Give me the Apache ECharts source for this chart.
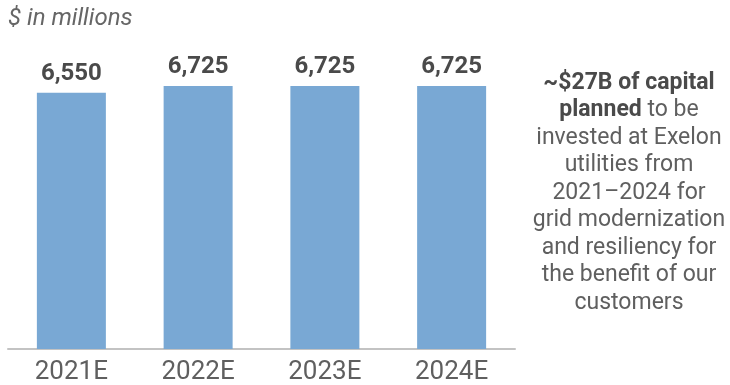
<!DOCTYPE html>
<html>
<head>
<meta charset="utf-8">
<script src="https://cdn.jsdelivr.net/npm/echarts@6/dist/echarts.min.js"></script>
<style>
  html, body { margin: 0; padding: 0; background: #ffffff; }
  #chart { width: 730px; height: 385px; }
</style>
</head>
<body>
<div id="chart"></div>
<script>
// Planned utility capital expenditure by year ($ in millions)
const years = ['2021E', '2022E', '2023E', '2024E'];
const capex = [6550, 6725, 6725, 6725];

const unitNote = '$ in millions';
const noteBold1 = '~$27B of capital';
const noteBold2 = 'planned';
const noteRest = [' to be', 'invested at Exelon', 'utilities from', '2021\u20132024 for',
  'grid modernization', 'and resiliency for', 'the benefit of our', 'customers'];

const chart = echarts.init(document.getElementById('chart'));

const noteText =
  '{b|' + noteBold1 + '}\n' +
  '{b|' + noteBold2 + '}{n|' + noteRest[0] + '}\n' +
  noteRest.slice(1).map(s => '{n|' + s + '}').join('\n');

chart.setOption({
  animation: false,
  grid: { left: 8, right: 215, top: 36, bottom: 35 },
  xAxis: {
    type: 'category',
    data: years,
    axisLine: { show: true, lineStyle: { color: '#c3c3c3', width: 2 } },
    axisTick: { show: false },
    axisLabel: {
      margin: 10,
      fontFamily: 'Roboto',
      fontSize: 26,
      color: '#5f5f5f'
    }
  },
  yAxis: {
    type: 'value',
    min: 0,
    max: 8000,
    show: false,
    splitLine: { show: false }
  },
  series: [{
    type: 'bar',
    data: capex,
    barWidth: 69,
    itemStyle: { color: '#79a8d4' },
    label: {
      show: true,
      position: 'top',
      distance: 7,
      fontFamily: 'Roboto',
      fontWeight: 'bold',
      fontSize: 24,
      color: '#4a4a4a',
      formatter: p => p.value.toLocaleString('en-US')
    }
  }],
  graphic: [
    {
      type: 'text',
      left: 8,
      top: 7,
      style: {
        text: unitNote,
        fontFamily: 'Roboto',
        fontStyle: 'italic',
        fontSize: 24,
        fill: '#666666'
      }
    },
    {
      type: 'text',
      x: 629,
      y: 69,
      style: {
        text: noteText,
        textAlign: 'center',
        textVerticalAlign: 'top',
        rich: {
          b: {
            fontFamily: 'Roboto',
            fontWeight: 'bold',
            fontSize: 23,
            lineHeight: 27.5,
            fill: '#4a4a4a'
          },
          n: {
            fontFamily: 'Roboto',
            fontSize: 23,
            lineHeight: 27.5,
            fill: '#5f5f5f'
          }
        }
      }
    }
  ]
});
</script>
</body>
</html>
